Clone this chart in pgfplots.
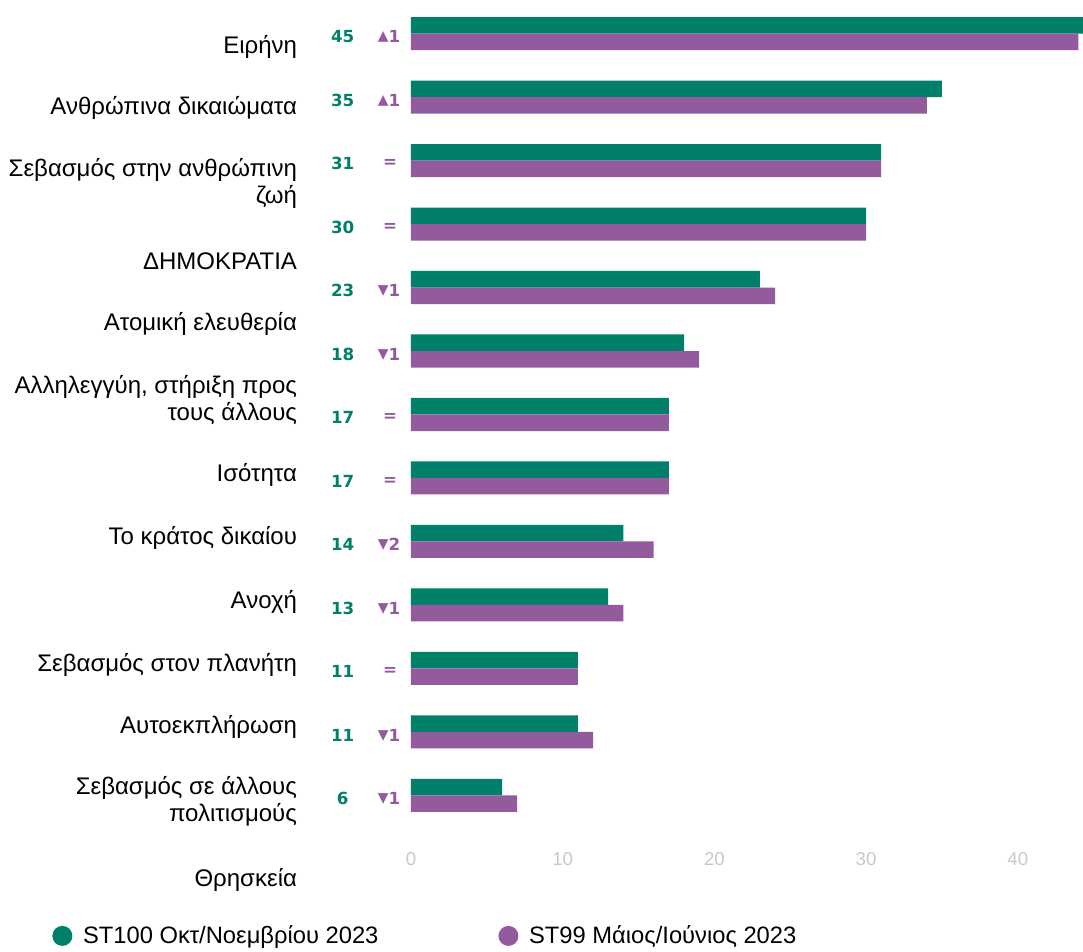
\documentclass[border=0pt]{standalone}
\usepackage{pgfplots}
\pgfplotsset{compat=1.18}
\usepackage{fontspec}
\setmainfont{Liberation Sans}
\newfontfamily\numfont{DejaVu Sans}
\definecolor{tg}{RGB}{0,127,105}
\definecolor{pu}{RGB}{147,90,158}
\definecolor{tk}{RGB}{200,200,200}
\begin{document}
\begin{tikzpicture}
\begin{axis}[
  scale only axis, width=504pt, height=634pt,
  xbar, bar width=12.4pt,
  xmin=0, xmax=44.3, ymin=-12.79, ymax=0.528,
  axis line style={draw=none}, major tick length=0pt,
  xtick={0,10,20,30,40}, ytick=\empty,
  /pgf/number format/assume math mode=true,
  xticklabel style={font=\fontsize{14}{16}\selectfont\color{tk}, yshift=-2pt},
  clip mode=individual,
  legend columns=2,
  legend style={draw=none, fill=none, at={(rel axis cs:-0.54,-0.107)}, anchor=west,
    font=\fontsize{17.8}{20}\selectfont, column sep=6pt,
    /tikz/every even column/.append style={column sep=88pt}},
]
\addplot[fill=tg, draw=none, bar shift=6.2pt,
  legend image code/.code={\fill[tg] (0.25cm,0pt) circle (7.5pt);}]
  coordinates {(45,0) (35,-1) (31,-2) (30,-3) (23,-4) (18,-5) (17,-6) (17,-7) (14,-8) (13,-9) (11,-10) (11,-11) (6,-12)};
\addlegendentry{ST100 Οκτ/Νοεμβρίου 2023}
\addplot[fill=pu, draw=none, bar shift=-6.2pt,
  legend image code/.code={\fill[pu] (0.25cm,0pt) circle (7.5pt);}]
  coordinates {(44,0) (34,-1) (31,-2) (30,-3) (24,-4) (19,-5) (17,-6) (17,-7) (16,-8) (14,-9) (11,-10) (12,-11) (7,-12)};
\addlegendentry{ST99 Μάιος/Ιούνιος 2023}
% category labels
\begin{scope}[every node/.style={anchor=east, align=right, font=\fontsize{18}{20.5}\selectfont, inner sep=0pt}]
\node at (axis cs:-7.5,-0.213) {Ειρήνη};
\node at (axis cs:-7.5,-1.174) {Ανθρώπινα δικαιώματα};
\node at (axis cs:-7.5,-2.364) {Σεβασμός στην ανθρώπινη\\ζωή};
\node at (axis cs:-7.5,-3.585) {ΔΗΜΟΚΡΑΤΙΑ};
\node at (axis cs:-7.5,-4.578) {Ατομική ελευθερία};
\node at (axis cs:-7.5,-5.775) {Αλληλεγγύη, στήριξη προς\\τους άλλους};
\node at (axis cs:-7.5,-6.957) {Ισότητα};
\node at (axis cs:-7.5,-7.95) {Το κράτος δικαίου};
\node at (axis cs:-7.5,-8.958) {Ανοχή};
\node at (axis cs:-7.5,-9.951) {Σεβασμός στον πλανήτη};
\node at (axis cs:-7.5,-10.93) {Αυτοεκπλήρωση};
\node at (axis cs:-7.5,-12.094) {Σεβασμός σε άλλους\\πολιτισμούς};
\node at (axis cs:-7.5,-13.34) {Θρησκεία};
\end{scope}
% value labels
\begin{scope}[every node/.style={anchor=center, font=\numfont\bfseries\fontsize{12.5}{14}\selectfont, text=tg, inner sep=0pt}]
\node at (axis cs:-4.5,-0.05) {45};
\node at (axis cs:-4.5,-1.05) {35};
\node at (axis cs:-4.5,-2.05) {31};
\node at (axis cs:-4.5,-3.05) {30};
\node at (axis cs:-4.5,-4.05) {23};
\node at (axis cs:-4.5,-5.05) {18};
\node at (axis cs:-4.5,-6.05) {17};
\node at (axis cs:-4.5,-7.05) {17};
\node at (axis cs:-4.5,-8.05) {14};
\node at (axis cs:-4.5,-9.05) {13};
\node at (axis cs:-4.5,-10.05) {11};
\node at (axis cs:-4.5,-11.05) {11};
\node at (axis cs:-4.5,-12.05) {6};
\end{scope}
% change labels
\begin{scope}[every node/.style={anchor=east, font=\numfont\bfseries\fontsize{12.5}{14}\selectfont, text=pu, inner sep=0pt}]
\node at (axis cs:-0.7,-0.05) {{\fontsize{16}{16}\selectfont▴}1};
\node at (axis cs:-0.7,-1.05) {{\fontsize{16}{16}\selectfont▴}1};
\node at (axis cs:-0.9,-2.05) {=};
\node at (axis cs:-0.9,-3.05) {=};
\node at (axis cs:-0.7,-4.05) {{\fontsize{16}{16}\selectfont▾}1};
\node at (axis cs:-0.7,-5.05) {{\fontsize{16}{16}\selectfont▾}1};
\node at (axis cs:-0.9,-6.05) {=};
\node at (axis cs:-0.9,-7.05) {=};
\node at (axis cs:-0.7,-8.05) {{\fontsize{16}{16}\selectfont▾}2};
\node at (axis cs:-0.7,-9.05) {{\fontsize{16}{16}\selectfont▾}1};
\node at (axis cs:-0.9,-10.05) {=};
\node at (axis cs:-0.7,-11.05) {{\fontsize{16}{16}\selectfont▾}1};
\node at (axis cs:-0.7,-12.05) {{\fontsize{16}{16}\selectfont▾}1};
\end{scope}
\path (rel axis cs:-0.6116,-0.1231) rectangle (rel axis cs:1,1);
\end{axis}
\end{tikzpicture}
\end{document}
